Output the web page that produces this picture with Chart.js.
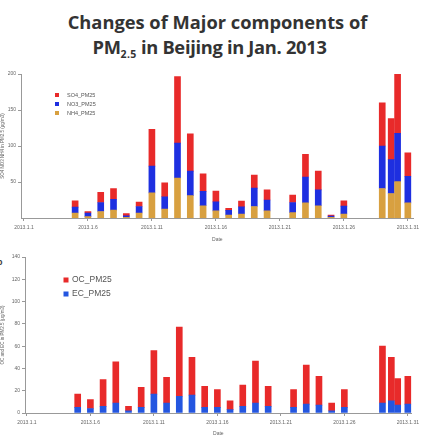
<!DOCTYPE html>
<html>
<head>
<meta charset="utf-8">
<script src="https://cdn.jsdelivr.net/npm/chart.js@4"></script>
<style>
  body { margin: 0; background: #fff; }
  #wrap { position: relative; width: 423px; height: 438px; overflow: hidden; }
  .tl { position: absolute; width: 423px; text-align: center; white-space: nowrap;
    font-family: "Open Sans", sans-serif; font-weight: 700; font-size: 18.3px; line-height: 25px; color: #333; }
  .tl sub { font-size: 10.5px; vertical-align: -4px; line-height: 0; letter-spacing: 0.3px; }
  #t1 { left: 6px; top: 9px; }
  #t2 { left: -2px; top: 34px; letter-spacing: -0.3px; }
  #c1 { position: absolute; left: 0; top: 62px; }
  #c2 { position: absolute; left: 0; top: 245px; }
  #tag { position: absolute; left: -3px; top: 257px; font: bold 9px "Liberation Sans", sans-serif; color: #444; }
</style>
</head>
<body>
<div id="wrap">
  <div class="tl" id="t1">Changes of Major components of</div>
  <div class="tl" id="t2">PM<sub>2.5</sub> in Beijing in Jan. 2013</div>
  <div id="tag">b</div>
  <canvas id="c1" width="423" height="182"></canvas>
  <canvas id="c2" width="423" height="193"></canvas>
</div>
<script>
// sampling days in January 2013
const days = [5, 6, 7, 8, 9, 10, 11, 12, 13, 14, 15, 16, 17, 18, 19, 20, 22, 23, 24, 25, 26, 29, 29.7, 30.2, 31];
const dayTicks = [1, 6, 11, 16, 21, 26, 31];

// ug/m3
const nh4 = [7, 2, 9, 11, 1, 7, 35, 12.5, 55.5, 31, 17, 10, 4, 5.5, 16, 10, 7.5, 21, 17, 1, 5.5, 41, 34, 50.5, 21];
const no3 = [8, 5, 12.5, 15, 2, 9, 37, 17, 48.5, 34, 20, 12.5, 6.5, 10, 25.5, 15, 14, 36, 22, 1.5, 11, 59, 47, 67, 37];
const so4 = [9, 2, 14, 15, 3, 6, 51, 19.5, 92.5, 52, 24.5, 15, 3, 8, 18, 14, 10.5, 31.5, 26, 1.5, 7.5, 60, 57, 82, 32.5];

const ec = [5, 4, 6, 9, 2, 5, 17, 9, 15, 16, 5, 5, 3, 6, 9, 6, 5, 8, 7, 2, 5, 9, 11, 7, 8];
const oc = [12, 8, 24, 37, 4, 18, 39, 23, 62, 34, 19, 16, 8, 19, 37.5, 18, 16, 35, 26, 7, 16, 51, 39, 24, 25];

const topTicks = [50, 100, 150, 200];
const bottomTicks = [0, 20, 40, 60, 80, 100, 120, 140];

const RED = '#e82a2a', BLUE = '#1e2fe0', TAN = '#d8a040', BLUE2 = '#2456e0';
const tickFont = { family: 'Liberation Sans', size: 5 };

function pts(vals) {
  return days.map((d, i) => ({ x: d, y: vals[i] }));
}

// simple legend drawn inside the plot
const cornerLegend = {
  id: 'cornerLegend',
  afterDraw(chart, args, opts) {
    const ctx = chart.ctx;
    ctx.save();
    ctx.font = opts.size + 'px "Liberation Sans"';
    ctx.textBaseline = 'middle';
    opts.order.forEach((di, k) => {
      const ds = chart.data.datasets[di];
      const y = opts.y + k * opts.gap;
      ctx.fillStyle = ds.backgroundColor;
      ctx.fillRect(opts.x - opts.box / 2, y - opts.box / 2, opts.box, opts.box);
      ctx.fillStyle = '#555';
      ctx.fillText(ds.label, opts.x + opts.textOff, y);
    });
    ctx.restore();
  }
};

function makeChart(id, datasets, o) {
  return new Chart(document.getElementById(id), {
    type: 'bar',
    data: { datasets: datasets },
    plugins: [cornerLegend],
    options: {
      responsive: false,
      animation: false,
      layout: { padding: { top: 12, right: 3, left: 0, bottom: 0 } },
      datasets: { bar: { barThickness: 6 } },
      plugins: {
        legend: { display: false },
        tooltip: { enabled: false },
        cornerLegend: o.legend
      },
      scales: {
        x: {
          type: 'linear',
          stacked: true,
          offset: false,
          min: o.xmin,
          max: o.xmax,
          afterBuildTicks: s => { s.ticks = dayTicks.map(v => ({ value: v })); },
          afterFit: s => { s.height = o.xh; },
          ticks: { font: tickFont, color: '#666', padding: o.xpad, maxRotation: 0, autoSkip: false,
            callback: v => '2013.1.' + v },
          grid: { drawOnChartArea: false, drawTicks: true, tickLength: 3, color: '#999', offset: false },
          border: { display: true, color: '#999' },
          title: { display: true, text: 'Date', font: { family: 'Liberation Sans', size: 5 }, color: '#666', padding: 1 }
        },
        y: {
          stacked: true,
          min: 0,
          max: o.ymax,
          afterBuildTicks: s => { s.ticks = o.yticks.map(v => ({ value: v })); },
          afterFit: s => { s.width = o.yw; },
          ticks: { font: tickFont, color: '#666', padding: 2 },
          grid: { drawOnChartArea: false, drawTicks: true, tickLength: 3, color: '#999' },
          border: { display: true, color: '#999' },
          title: { display: true, text: o.ytitle, font: { family: 'Liberation Sans', size: 4.5 }, color: '#666', padding: 0 }
        }
      }
    }
  });
}

makeChart('c1', [
  { label: 'NH4_PM25', data: pts(nh4), backgroundColor: TAN },
  { label: 'NO3_PM25', data: pts(no3), backgroundColor: BLUE },
  { label: 'SO4_PM25', data: pts(so4), backgroundColor: RED }
], {
  xmin: 0.77, xmax: 31.46, xh: 26, xpad: 4, yw: 21, ymax: 200, yticks: topTicks,
  ytitle: 'SO4 NO3 NH4 in PM2.5 (\u03bcg/m3)',
  legend: { x: 57, y: 33, gap: 9, box: 4, size: 5.5, textOff: 10, order: [2, 1, 0] }
});

makeChart('c2', [
  { label: 'EC_PM25', data: pts(ec), backgroundColor: BLUE2 },
  { label: 'OC_PM25', data: pts(oc), backgroundColor: RED }
], {
  xmin: 0.85, xmax: 31.3, xh: 25, xpad: 4, yw: 25, ymax: 140, yticks: bottomTicks,
  ytitle: 'OC and EC in PM2.5 (\u03bcg/m3)',
  legend: { x: 66, y: 35, gap: 14, box: 5, size: 8.5, textOff: 6, order: [1, 0] }
});
</script>
</body>
</html>
